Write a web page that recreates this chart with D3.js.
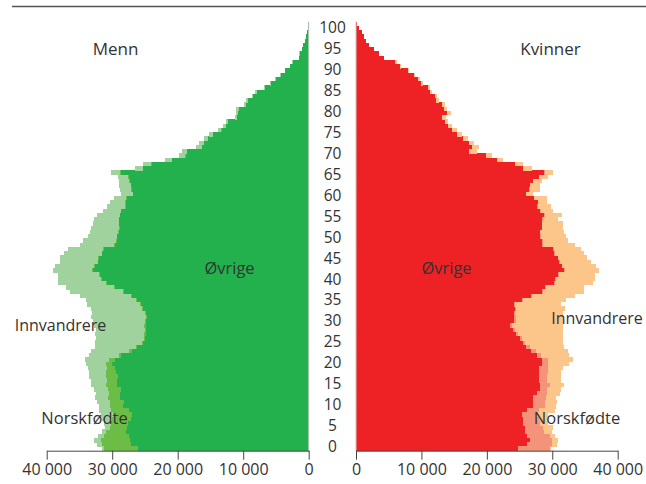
<!DOCTYPE html>
<html><head><meta charset="utf-8">
<script src="https://cdn.jsdelivr.net/npm/d3@7"></script>
<style>
html,body{margin:0;padding:0;background:#fff;}
svg{display:block;font-family:"Open Sans",sans-serif;}
</style></head>
<body><svg id="c" width="646" height="484"></svg>
<script>
const ages = d3.range(0, 101);
const ageTicks = d3.range(0, 101, 5);
const xTicks = [0, 10000, 20000, 30000, 40000];
const series = ["Øvrige", "Norskfødte", "Innvandrere"];

// Menn (men), per age 0..100
const menOvrige = [26000,27200,27300,27500,27900,27800,27600,27200,27000,27500,28300,28200,28800,28800,28600,29200,29300,29100,29400,29600,30100,29600,28700,27000,26200,25300,25000,24900,24800,24900,24800,24700,24900,25300,25600,26200,27000,28200,29600,30800,31500,31800,32900,32600,32100,32000,31500,31300,29600,29300,29200,29000,28800,28900,28900,28800,28600,27900,27900,27800,26800,27000,27100,27300,27500,28700,25300,24000,20900,18800,18600,16300,16000,15300,14600,13300,12600,12300,10900,10800,10600,9500,9300,8500,7900,6700,5800,5000,4300,3600,2850,2450,1450,1400,950,900,600,450,300,150,50];
const menNorsk = [5300,4300,4400,3800,3000,2500,2600,2800,2900,2700,2000,2200,1900,1700,2000,1800,1500,1800,1600,1200,800,900,300,400,200,200,200,200,200,200,200,150,150,150,150,150,150,150,150,150,150,150,150,150,100,100,100,100,100,100,100,100,100,100,100,80,80,80,80,80,60,60,60,60,50,50,40,40,30,30,30,30,20,20,20,20,10,10,10,10,10,0,0,0,0,0,0,0,0,0,0,0,0,0,0,0,0,0,0,0,0];
const menInnv = [200,800,1100,900,600,800,1100,1500,1800,1800,1700,1900,2000,2000,2200,2200,2500,2700,2500,2900,3100,3700,4500,5800,6200,7200,7300,7500,7400,7700,7900,8450,8050,7750,8150,7650,7750,8050,7350,7250,6550,6350,5950,5950,5800,5800,5800,5300,5200,5000,4400,4300,4400,3900,3800,3400,2800,2800,2300,1900,1800,1800,1800,1600,1600,1400,1200,1250,1000,1000,700,800,700,700,600,500,450,300,350,350,450,400,200,200,250,100,100,80,80,50,50,50,30,30,20,20,0,0,0,0,0];

// Kvinner (women), per age 0..100
const womenOvrige = [24800,26100,26600,26100,25800,25800,25600,25500,25400,26100,27000,27100,27100,27600,28100,28200,28000,28000,28000,28000,28400,28400,27600,26800,26000,25500,25000,24500,24000,23600,24100,24200,24100,24300,24100,25300,26700,28500,28900,30300,30400,30900,31800,31450,31050,30800,30300,30100,28500,28500,28200,28100,28400,28400,28500,28800,28200,27700,27800,27200,26000,26500,26600,27000,27900,28800,25500,24300,21500,19800,17300,17700,17200,16400,15400,14600,14100,13600,13100,13900,13500,13100,12300,12100,11300,11000,9900,9500,8800,8000,6800,6000,4300,3500,2750,2000,1600,1200,870,510,200];
const womenNorsk = [4900,3800,3300,3500,2900,2800,2500,2400,2200,1800,1900,1800,1900,1600,1100,1500,1200,1200,1300,1300,1000,1000,700,700,600,300,300,200,300,300,300,250,250,200,200,150,150,150,150,150,100,100,100,100,100,100,100,100,100,100,100,100,80,80,80,80,60,60,50,50,50,50,40,40,40,30,30,20,20,20,20,20,10,10,10,10,10,10,0,0,0,0,0,0,0,0,0,0,0,0,0,0,0,0,0,0,0,0,0,0,0];
const womenInnv = [100,800,1000,800,1200,1500,1300,1300,1800,2500,1700,1800,1600,2000,2200,2100,2200,2100,2100,2300,3100,3700,4300,4900,5200,5900,6300,6900,7400,7700,7300,7150,7350,7500,7000,6650,6550,6250,5850,5850,6000,5500,5300,5150,4750,4400,4500,4200,4900,3800,3800,3600,3220,3120,2350,2620,1840,2040,1350,1950,1050,1650,1560,1360,1360,1270,1330,1170,1010,930,1100,1100,750,770,760,760,500,500,600,600,400,500,400,350,350,350,300,350,250,100,150,250,50,30,30,0,0,0,0,0,0];

const menColors = {"Øvrige":"#23b14d","Norskfødte":"#6cbd45","Innvandrere":"#9fd29d"};
const womenColors = {"Øvrige":"#ee2224","Norskfødte":"#f4937a","Innvandrere":"#fcc68a"};

const svg = d3.select("#c");
const loc = d3.formatLocale({decimal:",", thousands:"\u00a0", grouping:[3], currency:["",""]});
const fmt = loc.format(",");

const y = d3.scaleBand().domain(ages).range([450.7, 21.7]).paddingInner(0).paddingOuter(0);
const yLab = d3.scaleLinear().domain([0, 100]).range([446.7, 27.7]);
const xL = d3.scaleLinear().domain([0, 40000]).range([308.7, 46.7]);
const xR = d3.scaleLinear().domain([0, 40000]).range([356, 617.7]);

function rows(ov, no, inn) {
  return ages.map((a, i) => ({age: a, "Øvrige": ov[i], "Norskfødte": no[i], "Innvandrere": inn[i]}));
}
const stack = d3.stack().keys(series);
const menStack = stack(rows(menOvrige, menNorsk, menInnv));
const womenStack = stack(rows(womenOvrige, womenNorsk, womenInnv));

function drawSide(st, x, colors, left) {
  const g = svg.append("g");
  st.forEach(layer => {
    g.append("g").attr("fill", colors[layer.key]).attr("shape-rendering", "crispEdges")
      .selectAll("rect").data(layer).join("rect")
      .attr("x", d => left ? x(d[1]) : x(d[0]))
      .attr("width", d => Math.abs(x(d[1]) - x(d[0])))
      .attr("y", d => y(d.data.age))
      .attr("height", y.bandwidth() + 0.3);
  });
}
drawSide(menStack, xL, menColors, true);
drawSide(womenStack, xR, womenColors, false);

// vertical base lines
svg.append("line").attr("x1", xL(0)).attr("x2", xL(0)).attr("y1", 21.7).attr("y2", 450.7).attr("stroke", "#c8c8c8").attr("stroke-width", 1);
svg.append("line").attr("x1", xR(0)).attr("x2", xR(0)).attr("y1", 21.7).attr("y2", 450.7).attr("stroke", "#c8c8c8").attr("stroke-width", 1);

// bottom axes
function axis(x) {
  const g = svg.append("g").attr("transform", "translate(0,450.7)")
    .call(d3.axisBottom(x).tickValues(xTicks).tickFormat(fmt).tickSize(9).tickSizeOuter(0).tickPadding(4));
  g.select(".domain").attr("stroke", "#444");
  g.selectAll(".tick line").attr("stroke", "#444");
  g.selectAll(".tick text").attr("fill", "#333").style("font-size", "16px").style("font-family", "'Open Sans',sans-serif");
}
axis(xL);
axis(xR);

// age labels
svg.append("g").selectAll("text").data(ageTicks).join("text")
  .attr("x", 332.5).attr("y", d => yLab(d)).attr("dy", "0.35em")
  .attr("text-anchor", "middle").attr("fill", "#333").style("font-size", "15.5px")
  .text(d => d);

// top rule
svg.append("line").attr("x1", 12).attr("x2", 646).attr("y1", 6.5).attr("y2", 6.5).attr("stroke", "#555").attr("stroke-width", 1.6);

// text labels
const labels = [
  {t:"Menn", x:115.5, y:55, s:17},
  {t:"Kvinner", x:550.5, y:55, s:17},
  {t:"Øvrige", x:229.5, y:273.5, s:16.5},
  {t:"Øvrige", x:446.5, y:273.5, s:16.5},
  {t:"Innvandrere", x:60.5, y:330.5, s:16},
  {t:"Innvandrere", x:597, y:323.5, s:16},
  {t:"Norskfødte", x:84.5, y:424, s:16.5},
  {t:"Norskfødte", x:577, y:424, s:16.5}
];
svg.append("g").selectAll("text").data(labels).join("text")
  .attr("x", d => d.x).attr("y", d => d.y).attr("text-anchor", "middle")
  .attr("fill", "#333").style("font-size", d => d.s + "px").text(d => d.t);
</script></body></html>
